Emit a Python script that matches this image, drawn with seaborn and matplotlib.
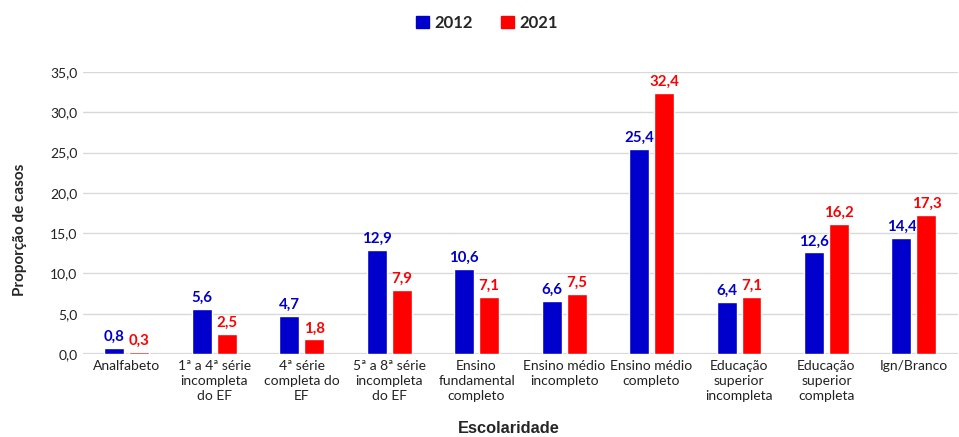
import matplotlib
matplotlib.use("Agg")
import matplotlib.pyplot as plt
import pandas as pd
import seaborn as sns
from matplotlib.patches import Patch

categories = [
    "Analfabeto",
    "1ª a 4ª série\nincompleta\ndo EF",
    "4ª série\ncompleta do\nEF",
    "5ª a 8ª série\nincompleta\ndo EF",
    "Ensino\nfundamental\ncompleto",
    "Ensino médio\nincompleto",
    "Ensino médio\ncompleto",
    "Educação\nsuperior\nincompleta",
    "Educação\nsuperior\ncompleta",
    "Ign/Branco",
]
years = ["2012", "2021"]
values_2012 = [0.8, 5.6, 4.7, 12.9, 10.6, 6.6, 25.4, 6.4, 12.6, 14.4]
values_2021 = [0.3, 2.5, 1.8, 7.9, 7.1, 7.5, 32.4, 7.1, 16.2, 17.3]
colors = {"2012": "#0000CC", "2021": "#FF0000"}

df = pd.DataFrame({
    "categoria": categories * 2,
    "ano": ["2012"] * len(categories) + ["2021"] * len(categories),
    "valor": values_2012 + values_2021,
})

sns.set_style("white")
fig = plt.figure(figsize=(9.59, 4.37), dpi=100)
ax = fig.add_axes([0.0866, 0.19, 0.912, 0.645])

sns.barplot(data=df, x="categoria", y="valor", hue="ano", palette=colors,
            width=0.571, gap=0.2, saturation=1, ax=ax, legend=False,
            errorbar=None)
for container in ax.containers:
    for p in container:
        p.set_zorder(5)

ax.set_ylim(0, 35)
ax.set_xlim(-0.5, len(categories) - 0.5)
ax.set_yticks(range(0, 36, 5))
ax.set_yticklabels([f"{v:.1f}".replace(".", ",") for v in range(0, 36, 5)],
                   fontsize=10, family="Lato", color="#222222")
ax.yaxis.grid(True, color="#d9d9d9", linewidth=1)
ax.set_axisbelow(True)
for s in ["top", "right", "left", "bottom"]:
    ax.spines[s].set_visible(False)
ax.axhline(0, color="#d9d9d9", linewidth=1.6, zorder=1)
ax.tick_params(axis="both", length=0, pad=4)
ax.set_xticks(range(len(categories)))
ax.set_xticklabels(categories, fontsize=10, family="Lato", linespacing=1.3,
                   color="#222222")

for container, yr in zip(ax.containers, years):
    labels = [f"{b.get_height():.1f}".replace(".", ",") for b in container]
    ax.bar_label(container, labels=labels, padding=3, fontsize=10.8,
                 fontweight="bold", color=colors[yr], family="Lato")

ax.set_xlabel("")
ax.set_ylabel("")
fig.text(0.531, 0.02, "Escolaridade", fontsize=11.8, fontweight="bold",
         family="Liberation Sans", ha="center", va="center")
fig.text(0.0205, 0.474, "Proporção de casos", fontsize=11, fontweight="bold",
         family="Lato", ha="center", va="center", rotation=90)

handles = [Patch(color=colors[y], label=y) for y in years]
fig.legend(handles=handles, loc="center", bbox_to_anchor=(0.508, 0.948), ncol=2,
           frameon=False, handlelength=0.75, handleheight=0.75,
           handletextpad=0.35, columnspacing=1.7,
           prop={"family": "Lato", "weight": "bold", "size": 12})

fig.savefig("out.png", dpi=100)
